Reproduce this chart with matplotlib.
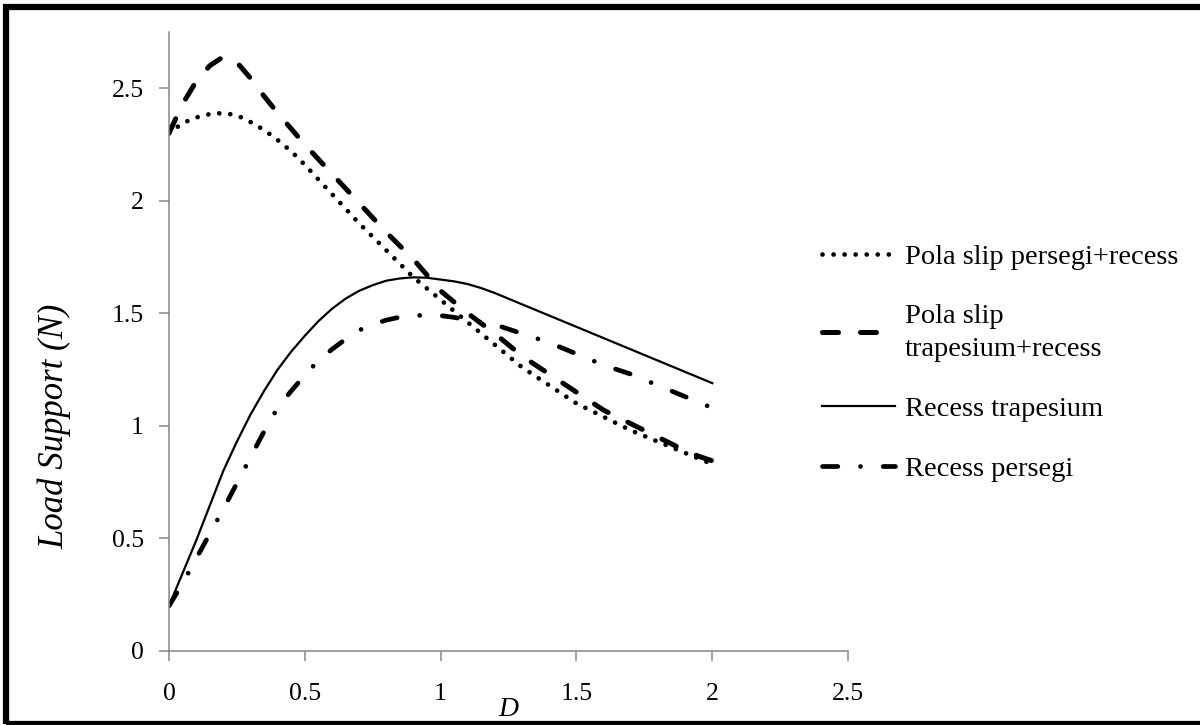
import numpy as np
import matplotlib.pyplot as plt
from matplotlib.patches import Rectangle

plt.rcParams['font.family'] = ['Liberation Serif', 'DejaVu Serif']

# D values (every 0.05)
d = [0.0, 0.05, 0.1, 0.15, 0.2, 0.25, 0.3, 0.35, 0.4, 0.45, 0.5,
     0.55, 0.6, 0.65, 0.7, 0.75, 0.8, 0.85, 0.9, 0.95, 1.0,
     1.05, 1.1, 1.15, 1.2, 1.25, 1.3, 1.35, 1.4, 1.45, 1.5,
     1.55, 1.6, 1.65, 1.7, 1.75, 1.8, 1.85, 1.9, 1.95, 2.0]

# load support (N)
slip_persegi = [2.30, 2.345, 2.37, 2.385, 2.39, 2.38, 2.35, 2.315, 2.27, 2.22, 2.16,
                2.095, 2.03, 1.965, 1.90, 1.84, 1.78, 1.72, 1.66, 1.61, 1.56,
                1.51, 1.46, 1.41, 1.36, 1.31, 1.26, 1.22, 1.18, 1.14, 1.10,
                1.07, 1.04, 1.01, 0.98, 0.955, 0.93, 0.905, 0.88, 0.855, 0.83]
slip_trapesium = [2.30, 2.43, 2.53, 2.60, 2.64, 2.615, 2.545, 2.465, 2.39, 2.32, 2.25,
                  2.185, 2.12, 2.055, 1.99, 1.925, 1.86, 1.80, 1.74, 1.67, 1.60,
                  1.55, 1.50, 1.455, 1.41, 1.36, 1.31, 1.27, 1.23, 1.19, 1.15,
                  1.11, 1.07, 1.04, 1.01, 0.98, 0.95, 0.92, 0.89, 0.865, 0.845]
recess_trapesium = [0.20, 0.345, 0.49, 0.645, 0.80, 0.93, 1.05, 1.155, 1.25, 1.33, 1.40,
                    1.465, 1.52, 1.565, 1.60, 1.625, 1.645, 1.655, 1.66, 1.658, 1.65,
                    1.642, 1.63, 1.612, 1.59, 1.565, 1.54, 1.515, 1.49, 1.465, 1.44,
                    1.415, 1.39, 1.365, 1.34, 1.315, 1.29, 1.265, 1.24, 1.215, 1.19]
recess_persegi = [0.20, 0.30, 0.41, 0.52, 0.63, 0.745, 0.86, 0.975, 1.08, 1.155, 1.225,
                  1.29, 1.34, 1.385, 1.425, 1.45, 1.47, 1.483, 1.49, 1.492, 1.49,
                  1.482, 1.47, 1.46, 1.45, 1.43, 1.41, 1.39, 1.37, 1.345, 1.32,
                  1.295, 1.27, 1.25, 1.23, 1.205, 1.18, 1.155, 1.13, 1.105, 1.08]

labels = ["Pola slip persegi+recess", "Pola slip\ntrapesium+recess",
          "Recess trapesium", "Recess persegi"]
xticks = [0, 0.5, 1, 1.5, 2, 2.5]
yticks = [0, 0.5, 1, 1.5, 2, 2.5]

fig = plt.figure(figsize=(12, 7.25), dpi=100)
ax = fig.add_axes([0.1408, 0.1021, 0.5659, 0.8538])

ax.plot(d, slip_persegi, color='black', lw=3.4, dashes=(0.01, 2.33),
        dash_capstyle='round', label=labels[0])
ax.plot(d, slip_trapesium, color='black', lw=3.6, dashes=(3.2, 4.4),
        dash_capstyle='round', label=labels[1])
ax.plot(d, recess_trapesium, color='black', lw=1.6, label=labels[2])
ax.plot(d, recess_persegi, color='black', lw=3.4, dashes=(3.24, 4.8, 0.01, 4.8),
        dash_capstyle='round', label=labels[3])

ax.set_xlim(0, 2.5)
ax.set_ylim(0, 2.75)
ax.set_xticks(xticks)
ax.set_xticklabels([f"{t:g}" for t in xticks])
ax.set_yticks(yticks)
ax.set_yticklabels([f"{t:g}" for t in yticks])

for s in ['top', 'right']:
    ax.spines[s].set_visible(False)
for s in ['left', 'bottom']:
    ax.spines[s].set_color('#868686')
    ax.spines[s].set_linewidth(1.1)

ax.tick_params(axis='both', direction='out', length=7, width=1.1,
               color='#868686', labelsize=18.5)
ax.tick_params(axis='x', pad=16)
ax.tick_params(axis='y', pad=11)

ax.set_ylabel('Load Support (N)', fontsize=25, style='italic')
ax.yaxis.set_label_coords(-0.143, 0.363)
ax.set_xlabel('D', fontsize=20, style='italic')
ax.xaxis.set_label_coords(0.5, -0.074)

leg = ax.legend(loc='upper left', bbox_to_anchor=(0.685, 0.6634),
                bbox_transform=fig.transFigure, frameon=False, fontsize=20.5,
                handlelength=2.57, handletextpad=0.35, labelspacing=1.2,
                borderpad=0, borderaxespad=0)
for t in leg.get_texts():
    t.set_linespacing(1.4)

fig.patches.append(Rectangle((0.005, 0.0007), 1.1, 0.9896, transform=fig.transFigure,
                             fill=False, lw=4.5, edgecolor='black', clip_on=False))

fig.savefig('out.png', dpi=100)
